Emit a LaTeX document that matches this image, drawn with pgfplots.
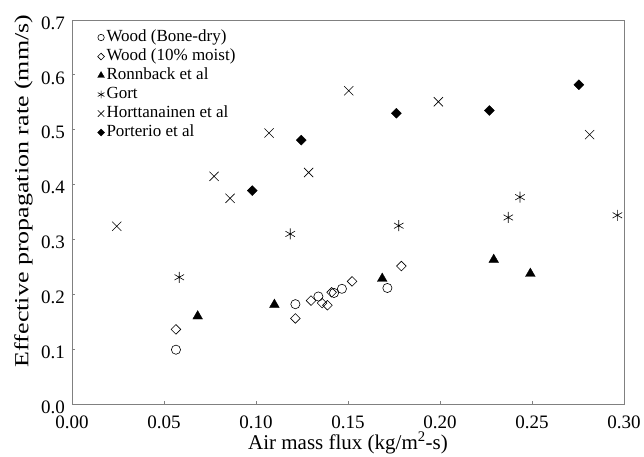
\documentclass[border=0pt]{standalone}
\usepackage{graphicx}
\usepackage{pgfplots}
\pgfplotsset{compat=1.18}
\usepackage{fontspec}
\setmainfont{Liberation Serif}
\definecolor{axgray}{RGB}{128,128,128}
\begin{document}
\begin{tikzpicture}
\begin{axis}[
  scale only axis,
  width=552pt, height=384pt,
  xmin=0, xmax=0.30, ymin=0, ymax=0.7,
  xtick={0,0.05,...,0.30},
  ytick={0,0.1,...,0.7},
  /pgf/number format/assume math mode=true,
  xticklabel style={/pgf/number format/.cd,fixed,fixed zerofill,precision=2,/tikz/.cd,
    anchor=base, yshift=-24pt},
  yticklabel style={/pgf/number format/.cd,fixed,fixed zerofill,precision=1,/tikz/.cd,
    xshift=-3.7pt, yshift=-3pt},
  tick label style={font=\fontsize{19}{21}\selectfont},
  xlabel={Air mass flux (kg/m\textsuperscript{2}-s)},
  ylabel={\scalebox{1.3}[1]{Effective propagation rate (mm/s)}},
  xlabel style={font=\fontsize{21}{23}\selectfont, at={(axis description cs:0.5,0)}, anchor=base, yshift=-45pt},
  ylabel style={font=\fontsize{20}{22}\selectfont, at={(axis description cs:-0.088,0.555)}, anchor=center},
  axis line style={draw=axgray, line width=0.9pt},
  tick style={draw=axgray, line width=0.8pt},
  tick align=inside,
  major tick length=3.5pt,
  xtick pos=bottom, ytick pos=left,
  legend cell align=left,
  legend image code/.code={\draw[mark repeat=2,mark phase=2,#1, every mark/.append style={scale=0.7}] plot coordinates {(0pt,0pt)(4pt,0pt)(10pt,0pt)};},
  legend style={at={(axis description cs:0.046,0.977)}, anchor=north west, draw=none, fill=none,
    font=\fontsize{17}{19}\selectfont, row sep=2pt, inner sep=0pt,
    nodes={inner ysep=1pt, text height=11.5pt, text depth=3.5pt}},
]
\addplot[only marks, mark=o, mark size=4.6pt, black, line width=0.6pt] coordinates {
(0.0565,0.099) (0.1214,0.182) (0.1339,0.196) (0.1424,0.2024) (0.1467,0.210) (0.1714,0.2115)
};
\addlegendentry{Wood (Bone-dry)}
\addplot[only marks, mark=square, mark size=3.4pt, mark options={rotate=45}, black, line width=0.6pt] coordinates {
(0.0565,0.136) (0.1214,0.156) (0.1299,0.1885) (0.1359,0.184) (0.1388,0.180) (0.1411,0.2036) (0.1522,0.2236) (0.179,0.2515)
};
\addlegendentry{Wood (10\% moist)}
\addplot[only marks, mark=triangle*, mark size=5.6pt, black] coordinates {
(0.0683,0.160) (0.110,0.181) (0.1686,0.2285) (0.2292,0.263) (0.2491,0.2376)
};
\addlegendentry{Ronnback et al}
\addplot[only marks, mark=asterisk, mark size=5.5pt, black, line width=0.6pt] coordinates {
(0.0583,0.231) (0.1186,0.310) (0.1776,0.325) (0.2371,0.340) (0.2435,0.377) (0.2964,0.344)
};
\addlegendentry{Gort}
\addplot[only marks, mark=x, mark size=6.5pt, black, line width=0.6pt] coordinates {
(0.0243,0.324) (0.0772,0.415) (0.0859,0.375) (0.1071,0.494) (0.1286,0.422) (0.1504,0.571) (0.1991,0.551) (0.2813,0.491)
};
\addlegendentry{Horttanainen et al}
\addplot[only marks, mark=square*, mark size=3.5pt, mark options={rotate=45}, black] coordinates {
(0.098,0.389) (0.1246,0.481) (0.1763,0.530) (0.2268,0.535) (0.2755,0.582)
};
\addlegendentry{Porterio et al}
\end{axis}
\path ([xshift=-72pt,yshift=-47pt]current axis.south west) rectangle ([xshift=20pt,yshift=20pt]current axis.north east);
\end{tikzpicture}
\end{document}
